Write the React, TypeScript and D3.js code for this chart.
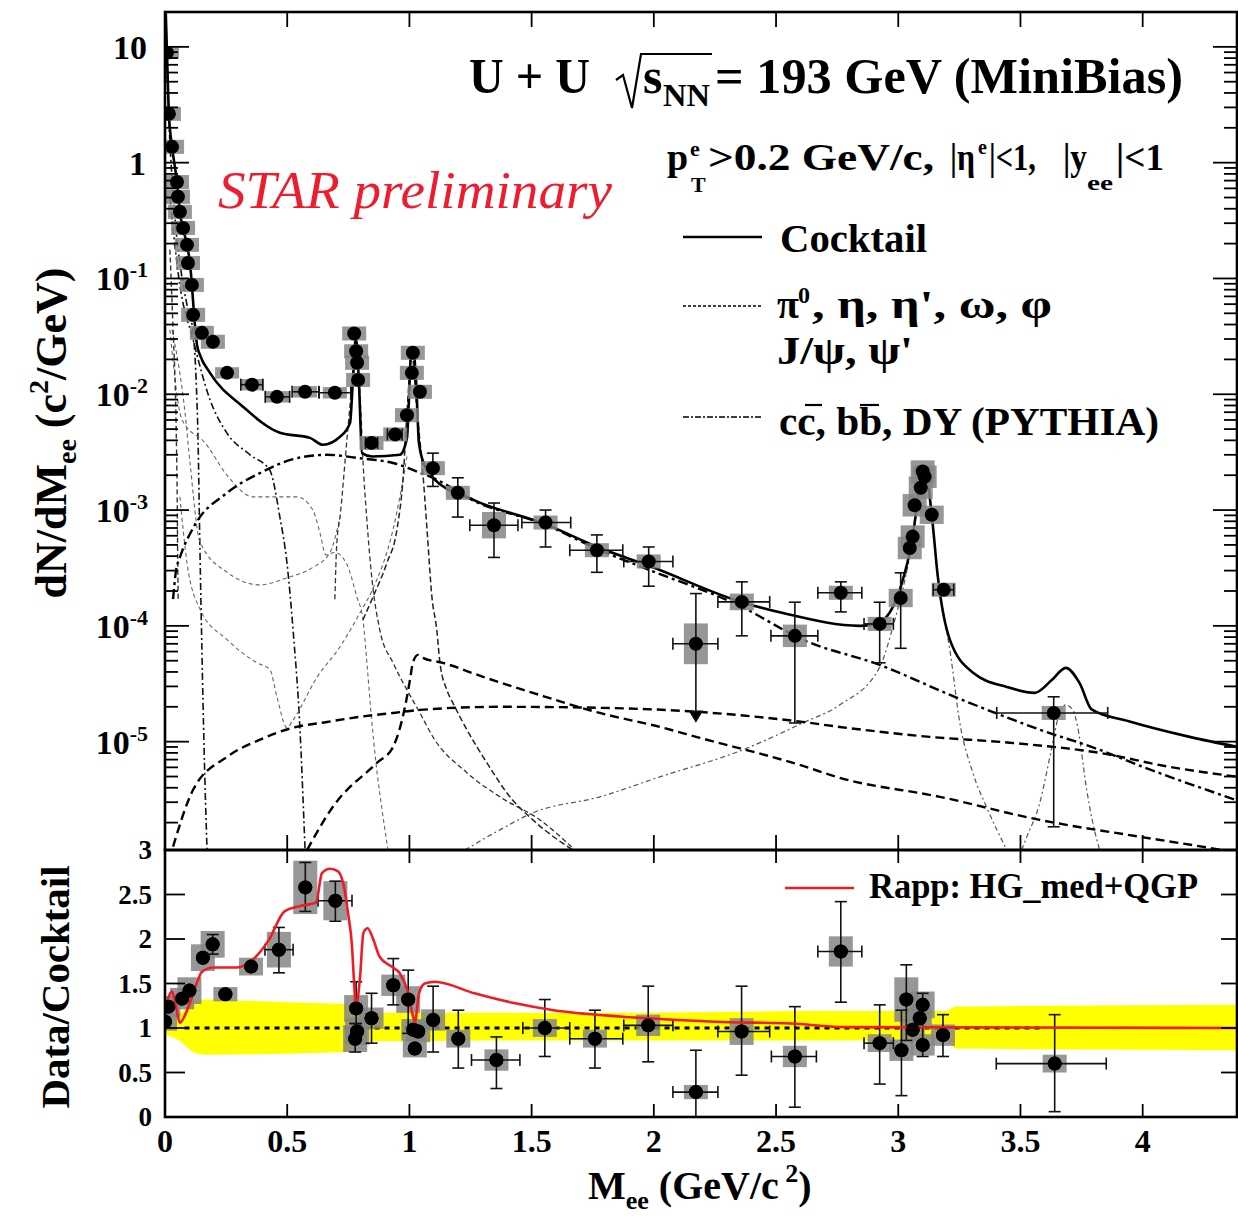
import React from 'react';
import * as d3 from 'd3';

const SERIF = '"Liberation Serif", "Times New Roman", serif';

// axis ticks
const massTicks = [0, 0.5, 1, 1.5, 2, 2.5, 3, 3.5, 4];
const massTickLabels = ['0', '0.5', '1', '1.5', '2', '2.5', '3', '3.5', '4'];
const yieldDecades = [1, 0, -1, -2, -3, -4, -5];
const ratioTicks = [0, 0.5, 1, 1.5, 2, 2.5, 3];
const ratioTickLabels = ['0', '0.5', '1', '1.5', '2', '2.5', '3'];

// data points, top panel: mass, dN/dM, mass low, mass high, stat low, stat high, sys factor
const yieldPoints = [
  [0.008, 8.9, 0, 0, 0, 0, 1.12],
  [0.016, 2.64, 0, 0, 0, 0, 1.15],
  [0.029, 1.37, 0, 0, 0, 0, 1.15],
  [0.049, 0.68, 0, 0, 0, 0, 1.15],
  [0.053, 0.507, 0, 0, 0, 0, 1.15],
  [0.061, 0.376, 0, 0, 0, 0, 1.15],
  [0.074, 0.273, 0, 0, 0, 0, 1.15],
  [0.09, 0.195, 0, 0, 0, 0, 1.15],
  [0.094, 0.136, 0, 0, 0, 0, 1.15],
  [0.11, 0.088, 0, 0, 0, 0, 1.15],
  [0.115, 0.0485, 0, 0, 0, 0, 1.15],
  [0.151, 0.0339, 0, 0, 0, 0, 1.15],
  [0.196, 0.0284, 0, 0, 0, 0, 1.15],
  [0.254, 0.0153, 0, 0, 0, 0, 1.12],
  [0.356, 0.0121, 0.31, 0.4, 0, 0, 1.12],
  [0.458, 0.0095, 0.41, 0.51, 0, 0, 1.12],
  [0.573, 0.0105, 0.52, 0.63, 0, 0, 1.12],
  [0.695, 0.0103, 0.63, 0.76, 0, 0, 1.12],
  [0.774, 0.0335, 0, 0, 0, 0, 1.15],
  [0.782, 0.0235, 0, 0, 0, 0, 1.15],
  [0.786, 0.0187, 0, 0, 0, 0, 1.15],
  [0.79, 0.0133, 0, 0, 0, 0, 1.15],
  [0.845, 0.0038, 0.82, 0.87, 0, 0, 1.15],
  [0.942, 0.0045, 0.91, 0.97, 0, 0, 1.15],
  [0.99, 0.0066, 0, 0, 0, 0, 1.15],
  [1.01, 0.0153, 0, 0, 0, 0, 1.15],
  [1.014, 0.0228, 0, 0, 0, 0, 1.15],
  [1.043, 0.0105, 0, 0, 0, 0, 1.15],
  [1.096, 0.0023, 0, 0, 0.0016, 0.0031, 1.15],
  [1.198, 0.00141, 0, 0, 0.00087, 0.0019, 1.15],
  [1.346, 7.4e-4, 1.247, 1.444, 3.9e-4, 1.15e-3, 1.3],
  [1.557, 7.8e-4, 1.46, 1.66, 4.8e-4, 1.0e-3, 1.15],
  [1.767, 4.5e-4, 1.656, 1.873, 2.9e-4, 6.1e-4, 1.15],
  [1.979, 3.6e-4, 1.877, 2.078, 2.2e-4, 4.8e-4, 1.15],
  [2.172, 7.0e-5, 2.078, 2.262, 1.5e-5, 1.9e-4, 1.5],
  [2.36, 1.61e-4, 2.262, 2.474, 8.2e-5, 2.4e-4, 1.18],
  [2.577, 8.2e-5, 2.479, 2.671, 1.45e-5, 1.6e-4, 1.25],
  [2.765, 1.93e-4, 2.671, 2.851, 1.32e-4, 2.4e-4, 1.15],
  [2.924, 1.04e-4, 2.86, 2.98, 4.8e-5, 1.6e-4, 1.15],
  [3.01, 1.74e-4, 0, 0, 6.4e-5, 2.87e-4, 1.2],
  [3.047, 4.7e-4, 0, 0, 0, 0, 1.25],
  [3.059, 5.9e-4, 0, 0, 0, 0, 1.25],
  [3.067, 1.1e-3, 0, 0, 0, 0, 1.25],
  [3.092, 1.56e-3, 0, 0, 0, 0, 1.25],
  [3.1, 2.15e-3, 0, 0, 0, 0, 1.25],
  [3.108, 1.94e-3, 0, 0, 0, 0, 1.25],
  [3.137, 9.1e-4, 0, 0, 0, 0, 1.2],
  [3.186, 2.05e-4, 3.143, 3.227, 0, 0, 1.15],
  [3.636, 1.77e-5, 3.403, 3.857, 1.84e-6, 2.44e-5, 1.15],
];
const upperLimitMasses = [2.172];

// ratio points: mass, data/cocktail, mass low, mass high, stat low, stat high, sys
const ratioPoints = [
  [0.0, 1.07, 0, 0, 0, 0, 0.1],
  [0.014, 1.24, 0, 0, 0, 0, 0.12],
  [0.07, 1.33, 0, 0, 0, 0, 0.12],
  [0.1, 1.42, 0, 0, 0, 0, 0.15],
  [0.155, 1.79, 0, 0, 0, 0, 0.15],
  [0.195, 1.94, 0, 0, 1.83, 2.05, 0.15],
  [0.247, 1.38, 0, 0, 0, 0, 0.08],
  [0.352, 1.69, 0, 0, 0, 0, 0.1],
  [0.466, 1.88, 0.409, 0.524, 1.62, 2.13, 0.2],
  [0.574, 2.58, 0, 0, 2.31, 2.86, 0.3],
  [0.697, 2.43, 0.626, 0.765, 2.2, 2.65, 0.22],
  [0.778, 0.88, 0, 0, 0.73, 1.05, 0.15],
  [0.782, 1.22, 0, 0, 1.05, 1.52, 0.15],
  [0.786, 0.96, 0, 0, 0, 0, 0.15],
  [0.845, 1.11, 0, 0, 0.83, 1.39, 0.12],
  [0.934, 1.48, 0, 0, 1.26, 1.78, 0.12],
  [0.995, 1.32, 0, 0, 0.94, 1.65, 0.15],
  [1.016, 0.98, 0, 0, 0, 0, 0.12],
  [1.022, 0.77, 0, 0, 0, 0, 0.1],
  [1.036, 0.96, 0, 0, 0, 0, 0.12],
  [1.097, 1.09, 0, 0, 0.73, 1.47, 0.12],
  [1.2, 0.88, 0, 0, 0.55, 1.2, 0.1],
  [1.356, 0.64, 1.254, 1.452, 0.32, 0.9, 0.12],
  [1.554, 1.0, 1.464, 1.656, 0.68, 1.32, 0.1],
  [1.759, 0.88, 1.656, 1.873, 0.55, 1.2, 0.1],
  [1.977, 1.03, 1.877, 2.078, 0.62, 1.47, 0.12],
  [2.172, 0.28, 2.078, 2.262, 0.0, 0.75, 0.08],
  [2.359, 0.96, 2.262, 2.474, 0.47, 1.47, 0.15],
  [2.577, 0.68, 2.481, 2.665, 0.11, 1.24, 0.12],
  [2.765, 1.86, 2.671, 2.851, 1.29, 2.42, 0.17],
  [2.924, 0.83, 2.86, 2.98, 0.37, 1.26, 0.1],
  [3.013, 0.75, 0, 0, 0.24, 1.2, 0.12],
  [3.033, 1.32, 0, 0, 0.86, 1.71, 0.25],
  [3.059, 0.98, 0, 0, 0, 0, 0.12],
  [3.088, 1.11, 0, 0, 0, 0, 0.12],
  [3.1, 1.26, 0, 0, 0.68, 1.39, 0.15],
  [3.1, 0.81, 0, 0, 0, 0, 0.12],
  [3.183, 0.92, 0, 0, 0.68, 1.15, 0.12],
  [3.64, 0.6, 3.401, 3.851, 0.06, 1.15, 0.1],
];

// cocktail sum
const cocktail = [
  [0.003, 20], [0.008, 8.9], [0.016, 2.64], [0.029, 1.37], [0.049, 0.68], [0.061, 0.376],
  [0.09, 0.195], [0.102, 0.136], [0.11, 0.088], [0.119, 0.0485], [0.131, 0.0267], [0.143, 0.0219],
  [0.184, 0.0153], [0.319, 0.0078], [0.47, 0.00465], [0.593, 0.0042], [0.646, 0.00366],
  [0.716, 0.00429], [0.757, 0.00566], [0.769, 0.0134], [0.781, 0.0307], [0.793, 0.0134],
  [0.806, 0.0031], [0.847, 0.0029], [0.961, 0.003], [0.99, 0.0042], [0.998, 0.009],
  [1.006, 0.0219], [1.014, 0.0245], [1.027, 0.0134], [1.039, 0.0038], [1.063, 0.0024],
  [1.096, 0.0019], [1.264, 0.00122], [1.554, 7.6e-4], [1.779, 4.7e-4], [1.98, 3.3e-4],
  [2.36, 1.6e-4], [2.528, 1.29e-4], [2.843, 1.0e-4], [2.924, 1.08e-4], [2.978, 1.46e-4],
  [3.01, 2.17e-4], [3.059, 5.9e-4], [3.092, 1.82e-3], [3.108, 2.3e-3], [3.137, 9.1e-4],
  [3.162, 2.65e-4], [3.211, 7.6e-5], [3.309, 3.9e-5], [3.444, 2.97e-5], [3.558, 2.64e-5],
  [3.628, 3.4e-5], [3.685, 4.34e-5], [3.742, 3.2e-5], [3.791, 1.9e-5], [3.943, 1.5e-5],
  [4.192, 1.1e-5], [4.389, 9.0e-6],
];

// heavy flavour (PYTHIA)
const ccbar = [
  [0.033, 1.7e-4], [0.045, 3.0e-4], [0.061, 3.9e-4], [0.115, 7.0e-4], [0.254, 1.41e-3],
  [0.389, 2.09e-3], [0.524, 2.75e-3], [0.663, 3.0e-3], [0.798, 2.8e-3], [0.933, 2.55e-3],
  [1.043, 2.1e-3], [1.096, 1.9e-3], [1.264, 1.2e-3], [1.554, 7.5e-4], [1.779, 4.5e-4],
  [1.98, 3.05e-4], [2.36, 1.46e-4], [2.609, 7.6e-5], [2.924, 4.6e-5], [3.231, 2.44e-5],
  [3.579, 1.27e-5], [3.824, 8.5e-6], [3.988, 6.2e-6], [4.119, 4.9e-6], [4.389, 3.1e-6],
];
const drellYan = [
  [0.033, 1.24e-6], [0.115, 3.84e-6], [0.254, 7.4e-6], [0.389, 1.04e-5], [0.524, 1.32e-5],
  [0.663, 1.48e-5], [0.798, 1.64e-5], [0.933, 1.77e-5], [1.043, 1.88e-5], [1.37, 2.0e-5],
  [1.779, 1.96e-5], [2.106, 1.85e-5], [2.609, 1.48e-5], [2.761, 1.34e-5], [3.129, 1.1e-5],
  [3.456, 9.8e-6], [3.824, 8.0e-6], [4.11, 6.06e-6], [4.389, 4.97e-6],
];
const bbbar = [
  [0.581, 1.16e-6], [0.687, 2.74e-6], [0.867, 6.56e-6], [0.933, 9.0e-6], [0.99, 2.44e-5],
  [1.002, 3.4e-5], [1.014, 4.79e-5], [1.035, 5.62e-5], [1.055, 5.3e-5], [1.137, 4.79e-5],
  [1.301, 3.63e-5], [1.505, 2.64e-5], [1.779, 1.77e-5], [2.025, 1.34e-5], [2.188, 1.08e-5],
  [2.597, 6.3e-6], [2.761, 4.87e-6], [3.17, 3.34e-6], [3.579, 2.11e-6], [3.988, 1.51e-6],
  [4.274, 1.21e-6], [4.389, 1.1e-6],
];

// light mesons and quarkonia
const pi0Dalitz = [
  [0.004, 18.9], [0.008, 7.7], [0.016, 2.34], [0.029, 0.71], [0.045, 0.263], [0.065, 0.118],
  [0.09, 0.059], [0.115, 0.034], [0.127, 0.0139], [0.135, 0.0042], [0.143, 4.5e-4],
  [0.151, 6.2e-5], [0.16, 8.5e-6], [0.172, 1.16e-6],
];
const etaDalitz = [
  [0.02, 0.5], [0.06, 0.09], [0.115, 0.0295], [0.184, 0.009], [0.254, 0.0046], [0.348, 0.003],
  [0.429, 0.0022], [0.47, 8.7e-4], [0.499, 3.5e-4], [0.524, 9.2e-5], [0.552, 1.3e-5],
  [0.573, 1.16e-6],
];
const omegaDalitz = [
  [0.02, 0.036], [0.07, 0.006], [0.164, 0.0038], [0.262, 0.0019], [0.36, 0.0013], [0.54, 0.0013],
  [0.605, 0.001], [0.634, 6.35e-4], [0.658, 4.1e-4], [0.695, 4.3e-4], [0.744, 3.4e-4],
  [0.785, 1.78e-4], [0.81, 1.13e-4], [0.826, 4.8e-5], [0.843, 1.77e-5], [0.863, 6.6e-6],
  [0.888, 2.58e-6], [0.912, 1.16e-6],
];
const rhoEE = [
  [0.029, 0.036], [0.082, 0.0069], [0.102, 0.0026], [0.143, 5.3e-4], [0.254, 2.9e-4],
  [0.389, 2.26e-4], [0.499, 2.6e-4], [0.605, 3.2e-4], [0.675, 4.3e-4], [0.716, 8.7e-4],
];
const etaPrimeDalitz = [
  [0.061, 1.3e-3], [0.09, 3.5e-4], [0.143, 1.4e-4], [0.254, 7.6e-5], [0.376, 4.8e-5],
  [0.429, 4.2e-5], [0.458, 2.44e-5], [0.499, 1.32e-5], [0.524, 1.54e-5], [0.622, 3.6e-5],
  [0.716, 6.6e-5], [0.798, 1.3e-4], [0.851, 2.1e-4], [0.933, 6.8e-4], [0.961, 1.3e-3],
  [0.99, 2.9e-3],
];
const conversions = [
  [0.02, 0.177], [0.033, 0.036], [0.045, 0.006], [0.05, 1.2e-3], [0.052, 3.7e-4], [0.054, 1.7e-4],
];
const omegaEE = [
  [0.695, 1.7e-4], [0.703, 5.2e-4], [0.716, 8.7e-4], [0.744, 4.0e-3], [0.765, 0.0125],
  [0.781, 0.028], [0.795, 0.0125], [0.803, 0.006], [0.81, 2.7e-3], [0.826, 8.2e-4],
  [0.847, 2.5e-4], [0.879, 9.2e-5], [0.933, 4.8e-5], [0.99, 2.8e-5], [1.043, 1.77e-5],
  [1.096, 1.1e-5], [1.235, 5.4e-6], [1.37, 3.34e-6], [1.534, 2.11e-6], [1.677, 1.16e-6],
];
const phiEE = [
  [0.81, 1.13e-4], [0.851, 1.78e-4], [0.908, 3.5e-4], [0.949, 6.8e-4], [0.975, 2.0e-3],
  [0.99, 6.9e-3], [1.01, 0.022], [1.03, 0.0075], [1.055, 2.1e-3], [1.072, 6.8e-4],
  [1.092, 1.78e-4], [1.112, 9.2e-5], [1.125, 4.8e-5], [1.153, 2.8e-5], [1.178, 2.16e-5],
  [1.235, 1.27e-5], [1.317, 6.56e-6], [1.411, 3.34e-6], [1.505, 2.11e-6], [1.685, 1.1e-6],
];
const jpsiEE = [
  [1.227, 1.16e-6], [1.37, 1.73e-6], [1.505, 2.43e-6], [1.779, 3.34e-6], [2.025, 4.97e-6],
  [2.364, 8.5e-6], [2.609, 1.45e-5], [2.761, 2.08e-5], [2.924, 4.4e-5], [2.986, 1.13e-4],
  [3.018, 2.05e-4], [3.059, 5.5e-4], [3.092, 1.75e-3], [3.108, 2.2e-3], [3.137, 8.8e-4],
  [3.162, 2.6e-4], [3.19, 1.13e-4], [3.211, 6.2e-5], [3.252, 1.45e-5], [3.305, 5.4e-6],
  [3.362, 2.7e-6], [3.444, 1.16e-6],
];
const psi2sEE = [
  [3.505, 1.16e-6], [3.526, 1.51e-6], [3.579, 2.96e-6], [3.607, 5.4e-6], [3.632, 9.8e-6],
  [3.661, 1.81e-5], [3.685, 2.08e-5], [3.714, 1.88e-5], [3.734, 1.34e-5], [3.771, 3.84e-6],
  [3.796, 1.99e-6], [3.824, 1.16e-6],
];

// lower panel
const rappModel = [
  [0.0, 1.07], [0.012, 1.32], [0.029, 1.41], [0.045, 1.24], [0.061, 1.06], [0.086, 1.17],
  [0.11, 1.35], [0.135, 1.54], [0.15, 1.63], [0.198, 1.68], [0.294, 1.68], [0.36, 1.77],
  [0.425, 1.99], [0.489, 2.31], [0.554, 2.37], [0.618, 2.41], [0.642, 2.74], [0.675, 2.79],
  [0.708, 2.76], [0.732, 2.59], [0.749, 2.29], [0.765, 1.92], [0.773, 1.54], [0.781, 1.24],
  [0.797, 1.54], [0.812, 2.07], [0.829, 2.12], [0.853, 1.99], [0.878, 1.8], [0.927, 1.69],
  [0.959, 1.62], [0.991, 1.43], [1.015, 1.13], [1.023, 1.07], [1.039, 1.39], [1.063, 1.5],
  [1.104, 1.52], [1.266, 1.39], [1.428, 1.28], [1.59, 1.2], [1.861, 1.13], [2.1, 1.09],
  [2.25, 1.07], [2.56, 1.05], [2.79, 1.01], [4.39, 1.0],
];
// cocktail systematic band: mass, low, high
const cocktailBand = [
  [0, 0.92, 1.08], [0.03, 0.9, 1.09], [0.06, 0.86, 1.16], [0.09, 0.78, 1.24], [0.12, 0.72, 1.3],
  [0.16, 0.7, 1.32], [0.5, 0.71, 1.29], [0.75, 0.73, 1.27], [0.76, 0.75, 1.25], [0.775, 0.84, 1.2],
  [0.8, 0.85, 1.17], [1.0, 0.85, 1.17], [1.3, 0.86, 1.17], [2.0, 0.86, 1.17], [2.6, 0.86, 1.19],
  [3.2, 0.86, 1.19], [3.23, 0.77, 1.24], [3.6, 0.76, 1.25], [4.39, 0.75, 1.26],
];
const unityRange = [0.08, 3.6];

const W = 1238;
const H = 1216;
const L = 165;
const R = 1237;
const T = 12;
const M = 850;
const B = 1117;

export default function App() {
  const x = d3.scaleLinear().domain([0, 4.39]).range([165, 1238]);
  const yTop = d3.scaleLog().domain([1.16e-6, 20]).range([M, T]);
  const yRat = d3.scaleLinear().domain([0, 3]).range([B, M]);

  const topLine = d3.line<number[]>().x(d => x(d[0])).y(d => yTop(d[1])).curve(d3.curveMonotoneX);
  const ratLine = d3.line<number[]>().x(d => x(d[0])).y(d => yRat(d[1])).curve(d3.curveMonotoneX);
  const bandArea = d3.area<number[]>().x(d => x(d[0])).y0(d => yRat(d[1])).y1(d => yRat(d[2]));

  const minor: number[] = [];
  for (let e = -6; e <= 1; e++) {
    for (let k = 2; k <= 9; k++) {
      const v = k * Math.pow(10, e);
      if (v > 1.16e-6 && v < 20) minor.push(v);
    }
  }

  const curveStyles = [
    { d: pi0Dalitz, c: '#111', w: 1.6, dash: '7,3,2,3' },
    { d: etaDalitz, c: '#111', w: 1.6, dash: '7,3,2,3' },
    { d: omegaDalitz, c: '#666', w: 1.1, dash: '4,3' },
    { d: rhoEE, c: '#666', w: 1.1, dash: '4,3' },
    { d: etaPrimeDalitz, c: '#666', w: 1.1, dash: '4,3' },
    { d: conversions, c: '#333', w: 1.4, dash: '5,3' },
    { d: omegaEE, c: '#333', w: 1.3, dash: '5,3' },
    { d: phiEE, c: '#222', w: 1.5, dash: '6,3' },
    { d: jpsiEE, c: '#555', w: 1.2, dash: '5,3,2,3' },
    { d: psi2sEE, c: '#555', w: 1.2, dash: '5,3,2,3' },
    { d: ccbar, c: '#000', w: 2.4, dash: '10,4,3,4' },
    { d: drellYan, c: '#000', w: 2.4, dash: '9,5' },
    { d: bbbar, c: '#000', w: 2.4, dash: '9,5' },
  ];

  const bold = { fontFamily: SERIF, fontWeight: 700 as const };

  const drawPoints = (pts: number[][], ys: (v: number) => number, top: boolean) => (
    <g>
      {pts.map((p, i) => {
        const [m, v, , , , , s] = p;
        const y0 = top ? ys(v * s) : ys(v + s);
        const y1 = top ? ys(v / s) : ys(v - s);
        return <rect key={'s' + i} x={x(m) - 12} y={y0} width={24} height={y1 - y0} fill="#858585" opacity={0.85} />;
      })}
      {pts.map((p, i) => {
        const [m, v, mLo, mHi, lo, hi] = p;
        const cx = x(m), cy = ys(v);
        const el: any[] = [];
        if (mHi > 0) {
          el.push(<line key="h" x1={x(mLo)} x2={x(mHi)} y1={cy} y2={cy} />);
          el.push(<line key="hl" x1={x(mLo)} x2={x(mLo)} y1={cy - 6} y2={cy + 6} />);
          el.push(<line key="hr" x1={x(mHi)} x2={x(mHi)} y1={cy - 6} y2={cy + 6} />);
        }
        if (hi > 0) {
          const yl = ys(lo);
          const yh = ys(hi);
          el.push(<line key="v" x1={cx} x2={cx} y1={yl} y2={yh} />);
          el.push(<line key="vt" x1={cx - 6} x2={cx + 6} y1={yh} y2={yh} />);
          if (top && upperLimitMasses.includes(m)) {
            el.push(<path key="ar" d={`M${cx - 6},${yl - 10}L${cx},${yl}L${cx + 6},${yl - 10}Z`} fill="#000" />);
          } else {
            el.push(<line key="vb" x1={cx - 6} x2={cx + 6} y1={yl} y2={yl} />);
          }
        }
        return <g key={'e' + i} stroke="#111" strokeWidth={1.6}>{el}</g>;
      })}
      {pts.map((p, i) => (
        <circle key={'c' + i} cx={x(p[0])} cy={ys(p[1])} r={7} fill="#000" />
      ))}
    </g>
  );

  return (
    <svg width={W} height={H} style={{ position: 'absolute', left: 0, top: 0, background: '#fff' }}>
      <defs>
        <clipPath id="clipTop"><rect x={L} y={T} width={R - L} height={M - T} /></clipPath>
        <clipPath id="clipBot"><rect x={L} y={M} width={R - L} height={B - M} /></clipPath>
      </defs>
      <rect x={0} y={0} width={W} height={H} fill="#fff" />

      {/* top panel curves */}
      <g clipPath="url(#clipTop)" fill="none">
        {curveStyles.map((c, i) => (
          <path key={i} d={topLine(c.d) || ''} stroke={c.c} strokeWidth={c.w} strokeDasharray={c.dash} />
        ))}
        <path d={topLine(cocktail) || ''} stroke="#000" strokeWidth={2.6} />
        {drawPoints(yieldPoints, yTop, true)}
      </g>

      {/* bottom panel */}
      <g clipPath="url(#clipBot)">
        <path d={bandArea(cocktailBand) || ''} fill="#ffff00" />
        <line x1={x(unityRange[0])} x2={x(unityRange[1])} y1={yRat(1)} y2={yRat(1)} stroke="#000" strokeWidth={3} strokeDasharray="5,5" />
        {drawPoints(ratioPoints, yRat, false)}
        <path d={ratLine(rappModel) || ''} fill="none" stroke="#ee1c25" strokeWidth={2.6} />
        {ratioPoints.map((p, i) => (
          <circle key={i} cx={x(p[0])} cy={yRat(p[1])} r={7} fill="#000" />
        ))}
      </g>

      {/* frames */}
      <g fill="none" stroke="#000" strokeWidth={2.6}>
        <rect x={L} y={T} width={R - L} height={M - T} />
        <rect x={L} y={M} width={R - L} height={B - M} />
      </g>

      {/* ticks */}
      <g stroke="#000" strokeWidth={1.8}>
        {massTicks.map((m, i) => (
          <g key={i}>
            <line x1={x(m)} x2={x(m)} y1={T} y2={T + 15} />
            <line x1={x(m)} x2={x(m)} y1={M} y2={M - 15} />
            <line x1={x(m)} x2={x(m)} y1={M} y2={M + 13} />
            <line x1={x(m)} x2={x(m)} y1={B} y2={B - 13} />
          </g>
        ))}
        {yieldDecades.map((e, i) => (
          <g key={'d' + i}>
            <line x1={L} x2={L + 24} y1={yTop(Math.pow(10, e))} y2={yTop(Math.pow(10, e))} />
            <line x1={R} x2={R - 24} y1={yTop(Math.pow(10, e))} y2={yTop(Math.pow(10, e))} />
          </g>
        ))}
        {minor.map((v, i) => (
          <g key={'m' + i}>
            <line x1={L} x2={L + 13} y1={yTop(v)} y2={yTop(v)} />
            <line x1={R} x2={R - 13} y1={yTop(v)} y2={yTop(v)} />
          </g>
        ))}
        {ratioTicks.map((r, i) => (
          <g key={'r' + i}>
            <line x1={L} x2={L + 20} y1={yRat(r)} y2={yRat(r)} />
            <line x1={R} x2={R - 16} y1={yRat(r)} y2={yRat(r)} />
          </g>
        ))}
      </g>

      {/* tick labels */}
      <g {...bold} fontSize={34} textAnchor="end" fill="#000">
        {yieldDecades.map((e, i) => {
          const y = yTop(Math.pow(10, e)) + 12;
          if (e === 1) return <text key={i} x={147} y={y}>10</text>;
          if (e === 0) return <text key={i} x={146} y={y}>1</text>;
          return (
            <text key={i} x={148} y={y}>
              10<tspan dy={-13} fontSize={22}>{'-' + -e}</tspan>
            </text>
          );
        })}
      </g>
      <g {...bold} fontSize={27} textAnchor="end" fill="#000">
        {ratioTicks.map((r, i) => (
          <text key={i} x={152} y={yRat(r) + 9}>{ratioTickLabels[i]}</text>
        ))}
      </g>
      <g {...bold} fontSize={32} textAnchor="middle" fill="#000">
        {massTicks.map((m, i) => (
          <text key={i} x={x(m)} y={1152}>{massTickLabels[i]}</text>
        ))}
      </g>

      {/* axis titles */}
      <text {...bold} fontSize={40} x={588} y={1199}>
        M<tspan dy={10} fontSize={26}>ee</tspan>
        <tspan dy={-10}> (GeV/c</tspan>
        <tspan dy={-17} fontSize={26}> 2</tspan>
        <tspan dy={17}>)</tspan>
      </text>
      <text {...bold} fontSize={44} transform="translate(66,433) rotate(-90)" textAnchor="middle">
        dN/dM<tspan dy={10} fontSize={28}>ee</tspan>
        <tspan dy={-10}> (c</tspan>
        <tspan dy={-18} fontSize={28}>2</tspan>
        <tspan dy={18}>/GeV)</tspan>
      </text>
      <text {...bold} fontSize={40} transform="translate(69,987) rotate(-90)" textAnchor="middle" textLength={243} lengthAdjust="spacingAndGlyphs">
        Data/Cocktail
      </text>

      {/* header */}
      <g {...bold} fill="#000">
        <text x={469} y={93} fontSize={50} textLength={121} lengthAdjust="spacingAndGlyphs">U + U</text>
        <path d="M616,80 L623,75 L632,108 L641,54 L712,54" fill="none" stroke="#000" strokeWidth={2.2} />
        <text x={643} y={93} fontSize={50}>s</text>
        <text x={663} y={106} fontSize={32} textLength={47} lengthAdjust="spacingAndGlyphs">NN</text>
        <text x={715} y={93} fontSize={50} textLength={468} lengthAdjust="spacingAndGlyphs">= 193 GeV (MiniBias)</text>

        <text x={667} y={170} fontSize={38}>p</text>
        <text x={690} y={156} fontSize={22}>e</text>
        <text x={691} y={192} fontSize={22}>T</text>
        <text x={708} y={170} fontSize={38} textLength={226} lengthAdjust="spacingAndGlyphs">&gt;0.2 GeV/c,</text>
        <text x={950} y={170} fontSize={38} textLength={25} lengthAdjust="spacingAndGlyphs">|η</text>
        <text x={978} y={154} fontSize={20}>e</text>
        <text x={989} y={170} fontSize={38} textLength={47} lengthAdjust="spacingAndGlyphs">|&lt;1,</text>
        <text x={1063} y={170} fontSize={38} textLength={24} lengthAdjust="spacingAndGlyphs">|y</text>
        <text x={1087} y={190} fontSize={22} textLength={26} lengthAdjust="spacingAndGlyphs">ee</text>
        <text x={1116} y={170} fontSize={38} textLength={48} lengthAdjust="spacingAndGlyphs">|&lt;1</text>
      </g>
      <text x={218} y={208} fontFamily={SERIF} fontStyle="italic" fontSize={52} fill="#ee1c2e" textLength={394} lengthAdjust="spacingAndGlyphs">
        STAR preliminary
      </text>

      {/* legend top */}
      <g {...bold} fill="#000">
        <line x1={683} x2={762} y1={237} y2={237} stroke="#000" strokeWidth={2.4} />
        <text x={780} y={252} fontSize={40} textLength={147} lengthAdjust="spacingAndGlyphs">Cocktail</text>
        <line x1={683} x2={762} y1={306} y2={306} stroke="#000" strokeWidth={1.6} strokeDasharray="3,2" />
        <text x={777} y={318} fontSize={40}>π</text>
        <text x={798} y={303} fontSize={24}>0</text>
        <text x={812} y={318} fontSize={40} textLength={240} lengthAdjust="spacingAndGlyphs">,  η,  η',  ω,  φ</text>
        <text x={777} y={364} fontSize={40} textLength={136} lengthAdjust="spacingAndGlyphs">J/ψ,  ψ'</text>
        <line x1={683} x2={762} y1={417} y2={417} stroke="#000" strokeWidth={1.6} strokeDasharray="6,2,2,2" />
        <text x={779} y={435} fontSize={40} textLength={380} lengthAdjust="spacingAndGlyphs">cc, bb, DY (PYTHIA)</text>
        <line x1={805} x2={822} y1={405} y2={405} stroke="#000" strokeWidth={2.2} />
        <line x1={860} x2={879} y1={405} y2={405} stroke="#000" strokeWidth={2.2} />
      </g>

      {/* legend bottom */}
      <line x1={785} x2={854} y1={888} y2={888} stroke="#ee1c25" strokeWidth={2.6} />
      <text {...bold} x={869} y={898} fontSize={36} textLength={329} lengthAdjust="spacingAndGlyphs">Rapp: HG_med+QGP</text>
    </svg>
  );
}
